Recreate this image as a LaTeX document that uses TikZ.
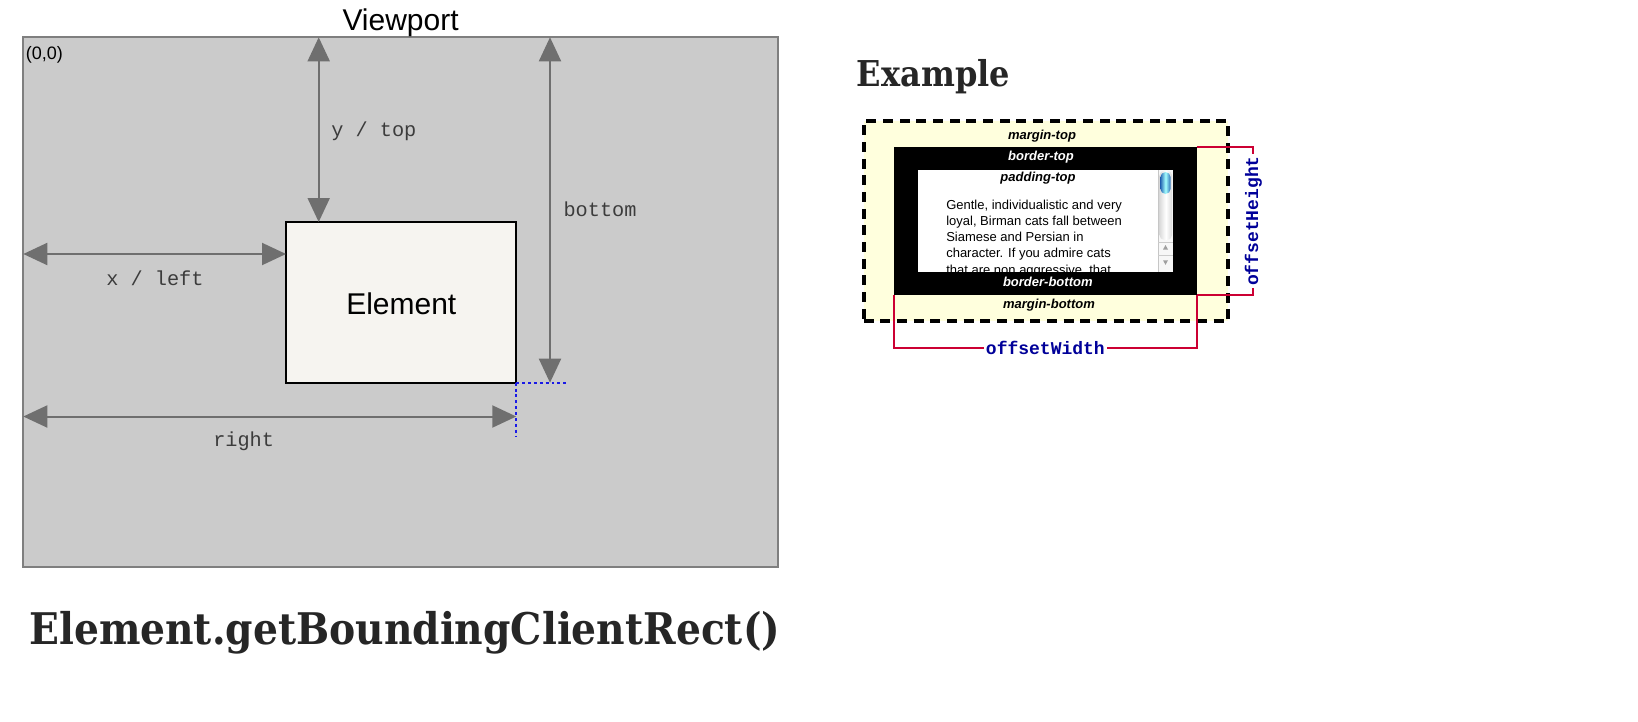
\documentclass[tikz,border=0pt]{standalone}
\usepackage{fontspec}
\setmainfont{Liberation Sans}
\setmonofont{Liberation Mono}
\newfontfamily\slabfont{DejaVu Serif Condensed}
\usepackage{tikz}
\usetikzlibrary{arrows.meta,positioning,fit,calc}

\definecolor{vpgray}{HTML}{CBCBCB}
\definecolor{vpedge}{HTML}{7F7F7F}
\definecolor{arrowgray}{HTML}{6F6F6F}
\definecolor{labelgray}{HTML}{3C3C3C}
\definecolor{elemfill}{HTML}{F6F4F0}
\definecolor{guideblue}{HTML}{1A1AE6}
\definecolor{marginyellow}{HTML}{FFFFDD}
\definecolor{offsetred}{HTML}{CC0033}
\definecolor{offsetblue}{HTML}{000099}
\definecolor{headink}{HTML}{262626}
\definecolor{thumbblue}{HTML}{2F7FE0}

\begin{document}
\begin{tikzpicture}[x=0.75pt, y=-0.75pt,
  box/.style={inner sep=0pt, outer sep=0pt},
  dimarrow/.style={{Triangle[length=18pt,width=16.5pt]}-{Triangle[length=18pt,width=16.5pt]}, draw=arrowgray, line width=1.5pt},
  dimlabel/.style={anchor=base west, inner sep=0pt, text=labelgray, font=\ttfamily\fontsize{15.2}{18}\selectfont},
  guide/.style={draw=guideblue, line width=1.4pt, dash pattern=on 2.2pt off 2.2pt},
  boxlabel/.style={anchor=base, inner sep=0pt, font=\bfseries\itshape\fontsize{9.75}{12}\selectfont},
  paraline/.style={anchor=base west, inner sep=0pt, font=\fontsize{9.75}{12}\selectfont},
  bracket/.style={draw=offsetred, line width=1.5pt},
  offsetlabel/.style={fill=white, inner sep=1.5pt, text=offsetblue, font=\ttfamily\bfseries\fontsize{13.5}{16}\selectfont},
  heading/.style={anchor=base west, inner sep=0pt, text=headink, font=\slabfont\bfseries\fontsize{32.7}{38}\selectfont}
]
  \useasboundingbox (0,0) rectangle (1638,721);

  % viewport and element
  \coordinate (vp-nw) at (23.3,37.3);
  \coordinate (vp-se) at (778,567);
  \node[box, fit=(vp-nw)(vp-se), draw=vpedge, fill=vpgray, line width=1.5pt] (viewport) {};
  \node[anchor=base, inner sep=0pt, font=\fontsize{22.5}{27}\selectfont] (vp-title) at (400.6,30) {Viewport};
  \node[anchor=base west, inner sep=0pt, font=\fontsize{13.5}{16}\selectfont] (origin) at (25.5,59) {(0,0)};

  \coordinate (el-nw) at (286,222);
  \coordinate (el-se) at (516.3,382.7);
  \node[box, fit=(el-nw)(el-se), draw=black, fill=elemfill, line width=1.5pt] (element) {};
  \node[anchor=base, inner sep=0pt, font=\fontsize{22.5}{27}\selectfont] (element-text) at (401.3,314.3) {Element};

  \coordinate (top-end) at (318.7,37.3);
  \coordinate (bottom-end) at (550,37.3);
  \coordinate (left-end) at (23.3,254);
  \coordinate (right-end) at (23.3,416.5);
  \draw[dimarrow] (top-end) -- (top-end |- element.north);
  \draw[dimarrow] (bottom-end) -- (bottom-end |- element.south);
  \draw[dimarrow] (left-end) -- (left-end -| element.west);
  \draw[dimarrow] (right-end) -- (right-end -| element.east);

  \node[dimlabel] (top-label) at (331,136) {y / top};
  \node[dimlabel] (bottom-label) at (563.3,216) {bottom};
  \node[dimlabel] (left-label) at (106,285.3) {x / left};
  \node[dimlabel] (right-label) at (213,446) {right};

  \draw[guide] (element.south east) -- ++(52,0);
  \draw[guide] (element.south east) -- ++(0,53);

  \node[heading] (api-title) at (29,644.5) {Element.getBoundingClientRect()};

  % box model example
  \node[heading, font=\slabfont\bfseries\fontsize{26.7}{31}\selectfont] (example-title) at (856.7,86.7) {Example};

  \coordinate (mg-nw) at (863.7,121.3);
  \coordinate (mg-se) at (1228.3,321.3);
  \node[box, fit=(mg-nw)(mg-se), fill=marginyellow, draw=black, line width=3pt, dash pattern=on 7.5pt off 5pt] (margin) {};
  \coordinate (bd-nw) at (894,146.7);
  \coordinate (bd-se) at (1196.7,295.3);
  \node[box, fit=(bd-nw)(bd-se), fill=black] (border) {};
  \coordinate (pd-nw) at (917.7,170);
  \coordinate (pd-se) at (1172.7,271.5);
  \node[box, fit=(pd-nw)(pd-se), fill=white] (content) {};

  \node[boxlabel] (margin-top) at (1042,139) {margin-top};
  \node[boxlabel, text=white] (border-top) at (1041,160.7) {border-top};
  \node[boxlabel] (padding-top) at (1038,181.7) {padding-top};
  \node[boxlabel, text=white] (border-bottom) at (1047.8,286.5) {border-bottom};
  \node[boxlabel] (margin-bottom) at (1049,308.5) {margin-bottom};

  \begin{scope}
    \clip (content.north west) rectangle (content.south east);
    \foreach \txt [count=\i] in {{Gentle, individualistic and very}, {loyal, Birman cats fall between},
        {Siamese and Persian in}, {character. If you admire cats}, {that are non aggressive, that}}
      \node[paraline] (line\i) at (946,{209+16.3*(\i-1)}) {\txt};
  \end{scope}

  % scrollbar
  \fill[gray!6] (1158.3,170) rectangle (1172.7,271.5);
  \draw[gray!45, line width=0.4pt] (1158.3,170) -- (1158.3,271.5);
  \shade[left color=gray!30, right color=gray!30, middle color=white, rounded corners=4pt] (1159.3,170.5) rectangle (1172.2,240);
  \shade[left color=thumbblue!80!black, right color=thumbblue!80!black, middle color=cyan!35, rounded corners=4pt] (1160.3,172) rectangle (1170.7,194);
  \draw[gray!40, line width=0.4pt] (1158.3,242) -- (1172.7,242);
  \draw[gray!40, line width=0.4pt] (1158.3,255) -- (1172.7,255);
  \fill[gray!75] (1163,249.5) -- (1168,249.5) -- (1165.5,245) -- cycle;
  \fill[gray!75] (1163,260.3) -- (1168,260.3) -- (1165.5,264.8) -- cycle;

  \draw[bracket] (border.north east) -- ++(56.6,0) |- node[pos=0.25, offsetlabel, rotate=90] (height-label) {offsetHeight} (border.south east);
  \draw[bracket] (border.south west) -- ++(0,53) -| node[pos=0.25, offsetlabel] (width-label) {offsetWidth} (border.south east);
\end{tikzpicture}
\end{document}
